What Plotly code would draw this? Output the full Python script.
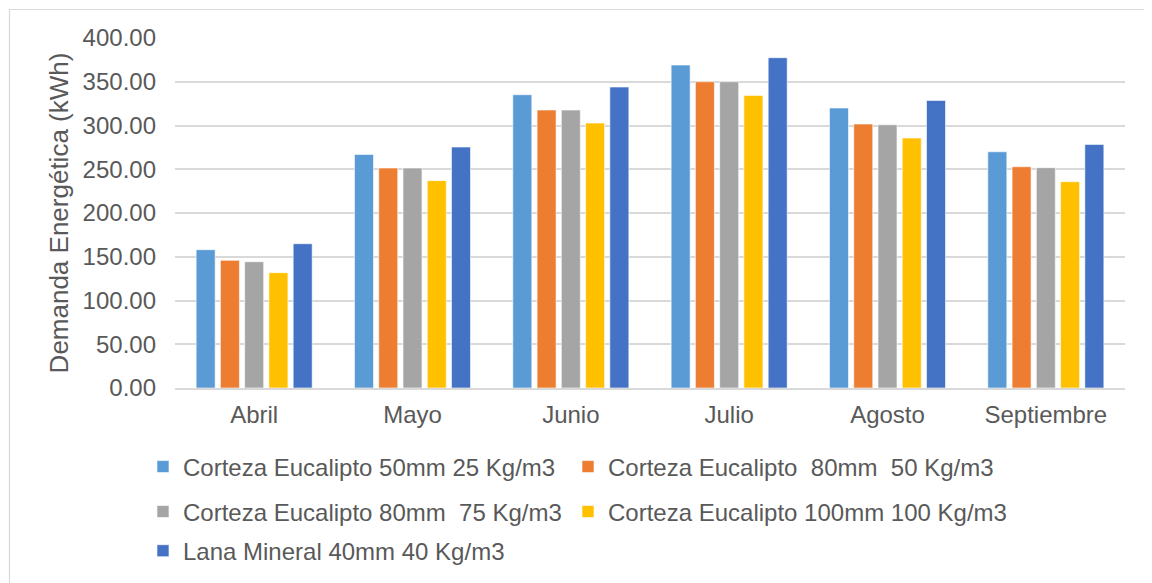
import plotly.graph_objects as go

months = ["Abril", "Mayo", "Junio", "Julio", "Agosto", "Septiembre"]
series_names = [
    "Corteza Eucalipto 50mm 25 Kg/m3",
    "Corteza Eucalipto  80mm  50 Kg/m3",
    "Corteza Eucalipto 80mm  75 Kg/m3",
    "Corteza Eucalipto 100mm 100 Kg/m3",
    "Lana Mineral 40mm 40 Kg/m3",
]
s1 = [158.1, 267.0, 335.2, 369.1, 320.0, 270.0]
s2 = [145.9, 251.4, 317.7, 350.0, 301.7, 252.9]
s3 = [144.3, 251.4, 317.7, 350.0, 300.9, 251.8]
s4 = [131.8, 237.0, 302.8, 334.4, 285.7, 235.8]
s5 = [164.9, 275.4, 344.0, 377.5, 328.7, 278.4]
series_values = [s1, s2, s3, s4, s5]
colors = ["#5B9BD5", "#ED7D31", "#A5A5A5", "#FFC000", "#4472C4"]
legend_ids = ["legend", "legend2", "legend3", "legend4", "legend5"]

FONT = "Liberation Sans, Arial, sans-serif"
TXT = "#595959"

fig = go.Figure()
for name, vals, col, lg in zip(series_names, series_values, colors, legend_ids):
    fig.add_trace(go.Bar(
        x=months, y=vals, name=name, showlegend=True,
        marker=dict(color=col, line=dict(color="white", width=0.6)),
        legend=lg,
    ))

leg_common = dict(
    orientation="h", xanchor="left", yanchor="middle",
    font=dict(family=FONT, size=24, color=TXT),
    bgcolor="rgba(0,0,0,0)", itemwidth=30,
)
col1_x, col2_x = -0.0337, 0.4137
row_y = [-0.2257, -0.354, -0.466]

fig.update_layout(
    width=1152, height=583,
    margin=dict(l=167, r=35, t=30, b=203),
    paper_bgcolor="white", plot_bgcolor="white",
    showlegend=True,
    barmode="group", bargap=0.234, bargroupgap=0.216,
    font=dict(family=FONT, size=24, color=TXT),
    legend=dict(**leg_common, x=col1_x, y=row_y[0]),
    legend2=dict(**leg_common, x=col2_x, y=row_y[0]),
    legend3=dict(**leg_common, x=col1_x, y=row_y[1]),
    legend4=dict(**leg_common, x=col2_x, y=row_y[1]),
    legend5=dict(**leg_common, x=col1_x, y=row_y[2]),
    xaxis=dict(
        showgrid=False, showline=True, linecolor="#D9D9D9", linewidth=1.5,
        ticks="", tickfont=dict(size=24, color=TXT), ticklabelstandoff=4,
    ),
    yaxis=dict(
        range=[0, 400], dtick=50, tickformat=".2f",
        showgrid=True, gridcolor="#D9D9D9", gridwidth=1.5,
        zeroline=False, showline=False, ticks="",
        tickfont=dict(size=24, color=TXT), ticklabelstandoff=18,
        title=dict(text="Demanda Energética (kWh)", font=dict(size=26, color=TXT), standoff=6),
    ),
    shapes=[dict(
        type="rect", xref="paper", yref="paper",
        x0=(1.5 - 167) / 950, x1=1.06, y0=-0.65, y1=(380 - 1.5) / 350,
        line=dict(color="#D9D9D9", width=1.2), fillcolor="rgba(0,0,0,0)", layer="below",
    )],
)

fig.write_html("out.html")
